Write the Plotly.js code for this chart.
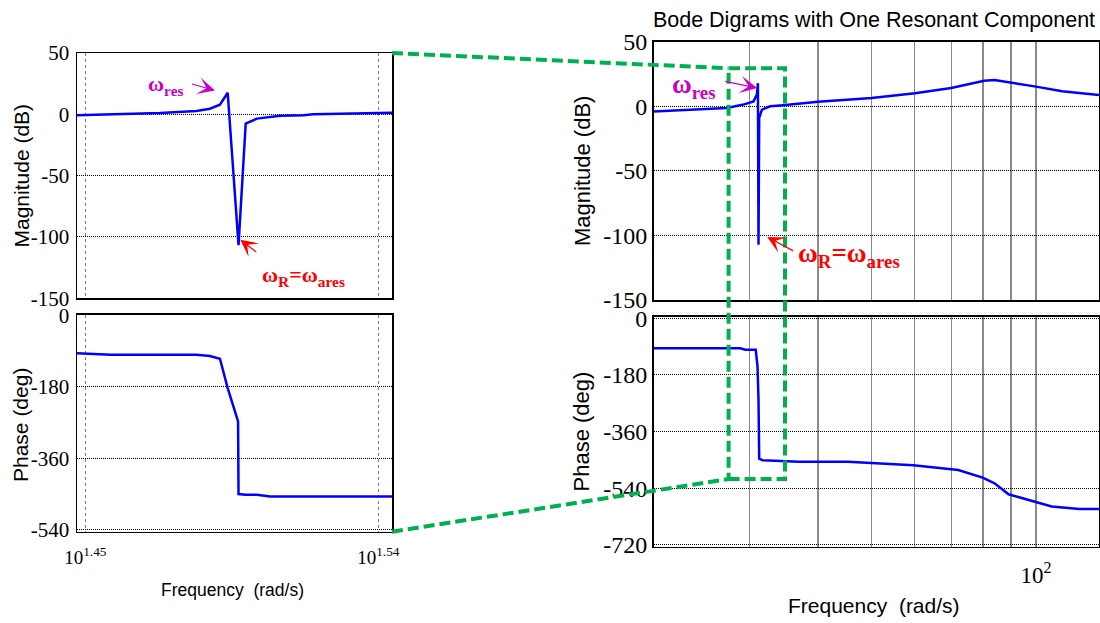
<!DOCTYPE html>
<html>
<head>
<meta charset="utf-8">
<script src="https://cdn.plot.ly/plotly-3.0.1.min.js"></script>
<style>html,body{margin:0;padding:0;background:#fff;}#chart{width:1100px;height:623px;}</style>
</head>
<body>
<div id="chart"></div>
<script>
// ---------- data ----------
// zoomed Bode plot (left)
const zoomFreqMag = [28.02, 28.69, 29.71, 30.49, 30.78, 31.00, 31.17, 31.41, 31.57, 31.82, 32.35, 32.89, 33.12, 35.02];
const zoomMagDb   = [-0.8, -0.1, 1.1, 2.7, 4.6, 7.8, 17.6, -106.7, -7.6, -3.5, -1.1, -0.8, 0, 1.35];
const zoomFreqPh  = [28.02, 28.69, 30.49, 30.78, 31.00, 31.17, 31.40, 31.41, 31.57, 31.82, 32.12, 35.02];
const zoomPhaseDeg= [-95, -99, -99, -102, -109, -183, -267, -450, -452, -452, -456, -456];
// full Bode plot (right)
const fullFreqMag = [20.0, 23.35, 27.26, 29.23, 30.48, 30.92, 31.05, 31.13, 31.22, 31.58, 32.7, 34.5, 40.0, 50.1, 60.1, 70.0, 80.4, 84.0, 89.7, 100, 111.6, 130.3];
const fullMagDb   = [-4.1, -2.6, -1.3, 1.3, 3.8, 9, 17.9, -107.2, -9, -2.6, 0, 0.8, 3.5, 6.4, 10, 14.2, 19.8, 20.4, 18.6, 15.2, 11.6, 8.8];
const fullFreqPh  = [20.0, 28.83, 29.46, 30.77, 31.0, 31.13, 31.22, 31.68, 36.9, 45.3, 59.7, 72.1, 79.9, 84.0, 89.1, 100, 106.8, 120.0, 130.3];
const fullPhaseDeg= [-95, -95, -100, -100, -153, -258, -446, -451, -456, -456, -467, -482, -506, -524, -559, -585, -598, -606, -606];
// ticks
const zoomXTickVals = [28.1838, 34.6737];
const zoomXTickText = ['10<sup>1.45</sup>', '10<sup>1.54</sup>'];
const fullXTickVals = [100];
const fullXTickText = ['10<sup>2</sup>'];
const fullXMinorGrid = [30, 40, 50, 60, 70, 80, 90];
const magTickVals = [-150, -100, -50, 0, 50];
const magTickText = ['-150', '-100', '-50', '0', '50'];
const zoomPhTickVals = [-540, -360, -180, 0];
const zoomPhTickText = ['-540', '-360', '-180', '0'];
const fullPhTickVals = [-720, -540, -360, -180, 0];
const fullPhTickText = ['-720', '-540', '-360', '-180', '0'];
// annotation targets
const resPeakZoom = {f: 30.89, db: 19.5};
const antiResZoom = {f: 31.45, db: -102.2};
const resPeakFull = {f: 30.96, db: 14.2};
const antiResFull = {f: 32.29, db: -101.2};

// ---------- layout helpers ----------
const W = 1100, H = 623;
const PX = x => x / W;
const PY = y => 1 - y / H;
const serif = 'Liberation Serif, Times New Roman, serif';
const sans = 'Liberation Sans, Arial, sans-serif';
const blue = '#0000FF', magenta = '#C800C8', red = '#FF0000', green = '#00B050';

const LX = [PX(77), PX(392)];
const RX = [PX(653.5), PX(1099)];
const frame = {showline: true, mirror: true, linecolor: '#000', linewidth: 1.5, zeroline: false,
               ticks: '', automargin: false, fixedrange: true};
const hgrid = {showgrid: true, gridcolor: '#000', griddash: '1px,1px', gridwidth: 1};

const traces = [
  {x: zoomFreqMag, y: zoomMagDb, xaxis: 'x', yaxis: 'y'},
  {x: zoomFreqPh, y: zoomPhaseDeg, xaxis: 'x2', yaxis: 'y2'},
  {x: fullFreqMag, y: fullMagDb, xaxis: 'x3', yaxis: 'y3'},
  {x: fullFreqPh, y: fullPhaseDeg, xaxis: 'x4', yaxis: 'y4'}
].map(t => Object.assign(t, {type: 'scatter', mode: 'lines', line: {color: blue, width: 2.5}, hoverinfo: 'skip'}));

const leftX = Object.assign({}, frame, {type: 'log', domain: LX, range: [1.44745, 1.54421],
  tickvals: zoomXTickVals, ticktext: zoomXTickText, showgrid: true, gridcolor: '#7a7a7a', griddash: 'dot', gridwidth: 1.5,
  tickfont: {family: serif, size: 19, color: '#000'}});
const rightX = Object.assign({}, frame, {type: 'log', domain: RX, range: [1.3014, 2.115],
  tickvals: fullXTickVals, ticktext: fullXTickText, showgrid: true, gridcolor: '#8a8a8a', gridwidth: 1.3,
  minor: {tickmode: 'array', tickvals: fullXMinorGrid, ticks: '', showgrid: true, gridcolor: '#8a8a8a', gridwidth: 1.3},
  tickfont: {family: serif, size: 23, color: '#000'}});

const layout = {
  width: W, height: H, margin: {l: 0, r: 0, t: 0, b: 0},
  paper_bgcolor: '#fff', plot_bgcolor: '#fff', showlegend: false,
  title: {text: 'Bode Digrams with One Resonant Component', font: {family: sans, size: 21.5, color: '#000'},
          x: PX(874), xanchor: 'center', xref: 'paper', y: PY(19.5), yanchor: 'middle', yref: 'paper'},
  xaxis:  Object.assign({}, leftX, {anchor: 'y', showticklabels: false}),
  xaxis2: Object.assign({}, leftX, {anchor: 'y2', ticklabelstandoff: 8}),
  xaxis3: Object.assign({}, rightX, {anchor: 'y3', showticklabels: false}),
  xaxis4: Object.assign({}, rightX, {anchor: 'y4', ticklabelstandoff: 7}),
  yaxis:  Object.assign({}, frame, hgrid, {domain: [PY(298.3), PY(53)], range: [-150, 50], anchor: 'x',
           tickvals: magTickVals, ticktext: magTickText, ticklabelstandoff: 2, tickfont: {family: serif, size: 21, color: '#000'}}),
  yaxis2: Object.assign({}, frame, hgrid, {domain: [PY(531.7), PY(314.7)], range: [-545, 2], anchor: 'x2',
           tickvals: zoomPhTickVals, ticktext: zoomPhTickText, ticklabelstandoff: 2, tickfont: {family: serif, size: 21, color: '#000'}}),
  yaxis3: Object.assign({}, frame, hgrid, {domain: [PY(300), PY(41.7)], range: [-150, 50], anchor: 'x3',
           tickvals: magTickVals, ticktext: magTickText, ticklabelstandoff: 0, tickfont: {family: serif, size: 24, color: '#000'}}),
  yaxis4: Object.assign({}, frame, hgrid, {domain: [PY(546.7), PY(316.7)], range: [-725.5, 5], anchor: 'x4',
           tickvals: fullPhTickVals, ticktext: fullPhTickText, ticklabelstandoff: 0, tickfont: {family: serif, size: 24, color: '#000'}}),
  shapes: [
    {type: 'line', xref: 'paper', yref: 'paper', x0: PX(392), y0: PY(53), x1: PX(728.6), y1: PY(68.3),
     line: {color: green, width: 4, dash: '11px,5px'}},
    {type: 'line', xref: 'paper', yref: 'paper', x0: PX(392), y0: PY(531.7), x1: PX(728.6), y1: PY(479),
     line: {color: green, width: 4, dash: '11px,5px'}},
    {type: 'rect', xref: 'paper', yref: 'paper', x0: PX(728.6), y0: PY(479), x1: PX(785), y1: PY(68.3),
     line: {color: green, width: 4, dash: '11px,5px'}, fillcolor: 'rgba(0,0,0,0)'}
  ],
  annotations: []
};

const A = layout.annotations;
// axis titles
function axTitle(text, x, y, size, angle) {
  A.push({text: text, xref: 'paper', yref: 'paper', x: PX(x), y: PY(y), xanchor: 'center', yanchor: 'middle',
          textangle: angle, showarrow: false, font: {family: sans, size: size, color: '#000'}});
}
axTitle('Magnitude (dB)', 20.5, 176, 21, -90);
axTitle('Phase (deg)', 20, 425, 21, -90);
axTitle('Frequency  (rad/s)', 232, 590, 17.5, 0);
axTitle('Magnitude (dB)', 582, 171, 22, -90);
axTitle('Phase (deg)', 581.5, 432, 22, -90);
axTitle('Frequency  (rad/s)', 874, 605, 21, 0);

// markers text
function label(text, x, y, size, color) {
  A.push({text: '<b>' + text + '</b>', xref: 'paper', yref: 'paper', x: PX(x), y: PY(y), xanchor: 'left', yanchor: 'middle',
          showarrow: false, font: {family: serif, size: size, color: color}});
}
label('ω<sub>res</sub>', 146, 85, 22, magenta);
label('ω<sub>R</sub>=ω<sub>ares</sub>', 260, 276, 22, red);
label('ω<sub>res</sub>', 670, 86, 27, magenta);
label('ω<sub>R</sub>=ω<sub>ares</sub>', 796, 255, 27, red);

// arrows
function arrow(xa, ya, pt, ax, ay, color) {
  A.push({text: ' ', xref: xa, yref: ya, x: Math.log10(pt.f), y: pt.db, ax: ax, ay: ay, showarrow: true,
          arrowcolor: color, arrowhead: 3, arrowsize: 2.4, arrowwidth: 1.2, standoff: 0, font: {size: 4}});
}
arrow('x', 'y', resPeakZoom, -25, -7, magenta);
arrow('x', 'y', antiResZoom, 18, 14, red);
arrow('x3', 'y3', resPeakFull, -34, -7, magenta);
arrow('x3', 'y3', antiResFull, 28, 15, red);

Plotly.newPlot('chart', traces, layout, {displayModeBar: false, staticPlot: true});
</script>
</body>
</html>
